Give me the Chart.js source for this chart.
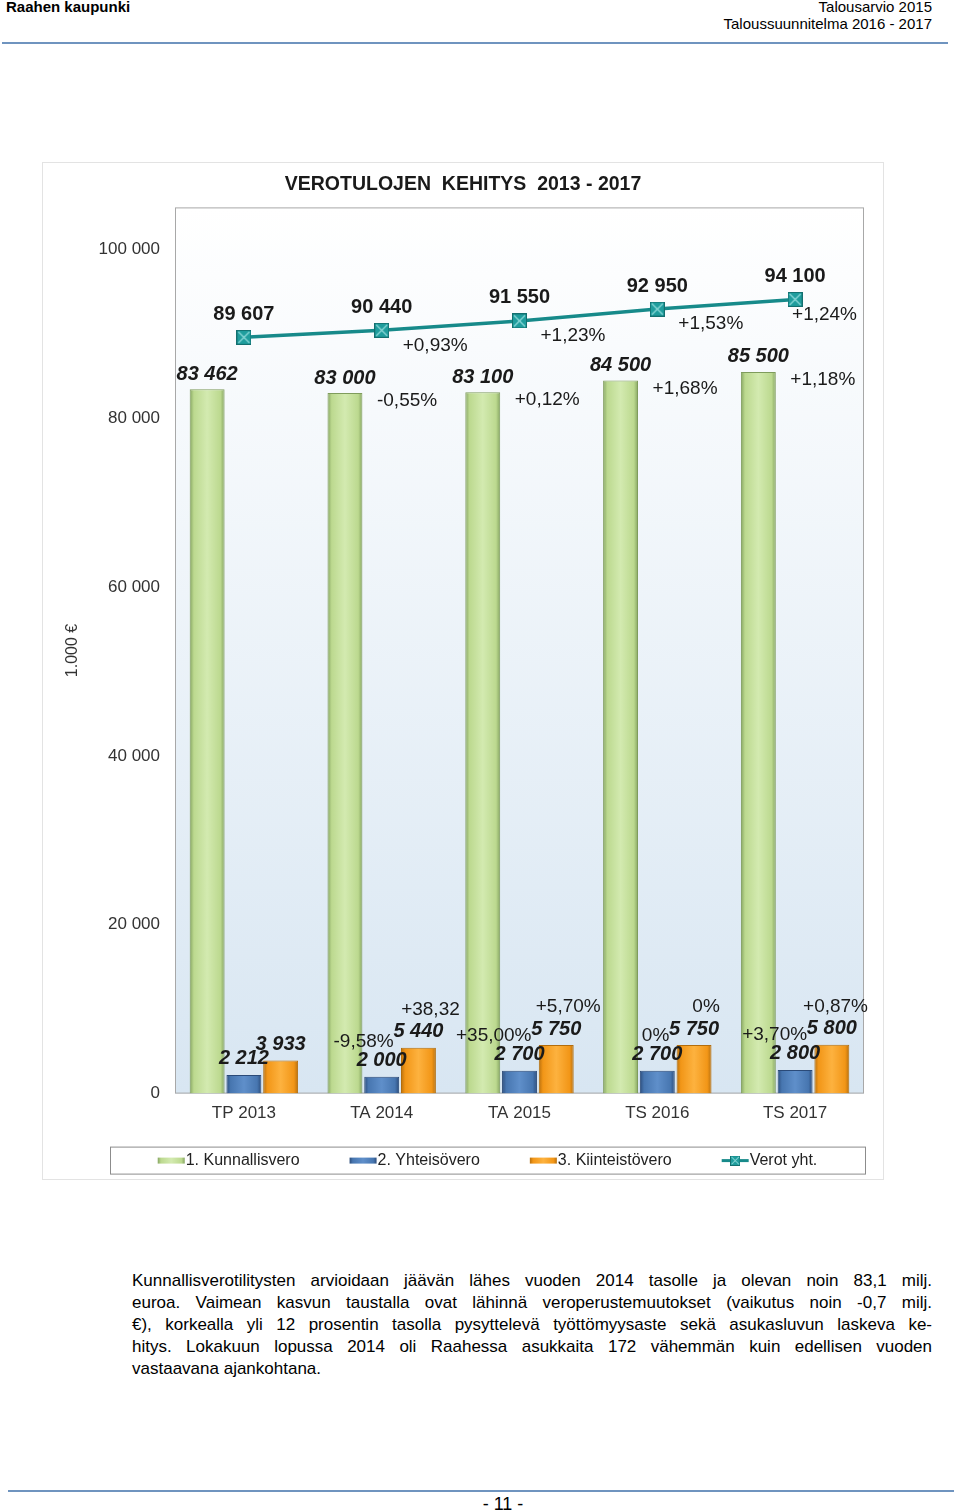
<!DOCTYPE html>
<html lang="fi">
<head>
<meta charset="utf-8">
<title>Verotulojen kehitys 2013 - 2017</title>
<script src="https://cdn.jsdelivr.net/npm/chart.js@4"></script>
<style>
  html, body { margin: 0; padding: 0; background: #fff; }
  body { width: 960px; height: 1512px; position: relative; overflow: hidden;
         font-family: "Liberation Sans", Arial, sans-serif; color: #000; }
  .hdr-left { position: absolute; left: 6px; top: -2px; font-weight: bold; font-size: 15px; line-height: 17px; }
  .hdr-right { position: absolute; right: 28px; top: -2px; text-align: right; font-size: 15px; line-height: 17px; }
  .rule { position: absolute; height: 2px; background: #6f94bf; }
  #box { position: absolute; left: 42px; top: 162px; width: 840px; height: 1016px; border: 1px solid #e3e3e3; }
  .para { position: absolute; left: 132px; top: 1270px; width: 800px; font-size: 17px; line-height: 22px; }
  .para div { text-align: justify; text-align-last: justify; }
  .para div.last { text-align-last: left; }
  .page { position: absolute; left: 453px; width: 100px; top: 1494px; text-align: center; font-size: 18px; }
</style>
</head>
<body>
<div class="hdr-left">Raahen kaupunki</div>
<div class="hdr-right">Talousarvio 2015<br>Taloussuunnitelma 2016 - 2017</div>
<div class="rule" style="left:2px; top:42px; width:946px;"></div>

<div id="box"><canvas id="verotChart" width="840" height="1016"></canvas></div>

<div class="para">
  <div>Kunnallisverotilitysten arvioidaan jäävän lähes vuoden 2014 tasolle ja olevan noin 83,1 milj.</div>
  <div>euroa. Vaimean kasvun taustalla ovat lähinnä veroperustemuutokset (vaikutus noin -0,7 milj.</div>
  <div>€), korkealla yli 12 prosentin tasolla pysyttelevä työttömyysaste sekä asukasluvun laskeva ke-</div>
  <div>hitys. Lokakuun lopussa 2014 oli Raahessa asukkaita 172 vähemmän kuin edellisen vuoden</div>
  <div class="last">vastaavana ajankohtana.</div>
</div>

<div class="rule" style="left:8px; top:1490px; width:946px;"></div>
<div class="page">- 11 -</div>

<script>
const categories = ['TP 2013', 'TA 2014', 'TA 2015', 'TS 2016', 'TS 2017'];
const kunnallisvero = [83462, 83000, 83100, 84500, 85500];
const yhteisovero = [2212, 2000, 2700, 2700, 2800];
const kiinteistovero = [3933, 5440, 5750, 5750, 5800];
const verotYht = [89607, 90440, 91550, 92950, 94100];

// muutos-% edelliseen vuoteen
const kunnallisMuutos = ['', '-0,55%', '+0,12%', '+1,68%', '+1,18%'];
const yhteisoMuutos = ['', '-9,58%', '+35,00%', '0%', '+3,70%'];
const kiinteistoMuutos = ['', '+38,32', '+5,70%', '0%', '+0,87%'];
const verotMuutos = ['', '+0,93%', '+1,23%', '+1,53%', '+1,24%'];

const yTicks = [0, 20000, 40000, 60000, 80000, 100000];

const FONT = '"Liberation Sans", Arial, sans-serif';
const fmt = v => String(v).replace(/\B(?=(\d{3})+(?!\d))/g, ' ');

// bar shading: edge, mid, light
const greenShade = ['#86a562', '#bcd98f', '#d3eab0'];
const blueShade = ['#2c4d7c', '#4776b0', '#5f8fca'];
const orangeShade = ['#b8700e', '#f29617', '#fdb23f'];

function shade(ctx, x0, x1, s) {
  const g = ctx.createLinearGradient(x0, 0, x1, 0);
  g.addColorStop(0, s[0]);
  g.addColorStop(0.12, s[1]);
  g.addColorStop(0.5, s[2]);
  g.addColorStop(0.88, s[1]);
  g.addColorStop(1, s[0]);
  return g;
}

// square marker with an X
const marker = document.createElement('canvas');
marker.width = 15;
marker.height = 15;
const m = marker.getContext('2d');
m.fillStyle = '#1f9d9d';
m.fillRect(0, 0, 15, 15);
m.strokeStyle = '#136f6f';
m.lineWidth = 1;
m.strokeRect(0.5, 0.5, 14, 14);
m.strokeStyle = '#8fdada';
m.lineWidth = 1.2;
m.beginPath();
m.moveTo(2, 2); m.lineTo(13, 13);
m.moveTo(13, 2); m.lineTo(2, 13);
m.stroke();

const plotFrame = {
  id: 'plotFrame',
  beforeDatasetsDraw(chart) {
    const { ctx, chartArea: a } = chart;
    ctx.save();
    const g = ctx.createLinearGradient(0, a.top, 0, a.bottom);
    g.addColorStop(0, '#ffffff');
    g.addColorStop(1, '#d8e6f2');
    ctx.fillStyle = g;
    ctx.fillRect(a.left, a.top, a.width, a.height);
    ctx.strokeStyle = '#a8a8a8';
    ctx.lineWidth = 1;
    ctx.strokeRect(a.left + 0.5, a.top + 0.5, a.width - 1, a.height - 1);
    ctx.restore();

    chart.data.datasets.forEach((ds, i) => {
      if (!ds.shades) return;
      chart.getDatasetMeta(i).data.forEach(el => {
        const { x, width } = el.getProps(['x', 'width'], true);
        const bg = shade(ctx, x - width / 2, x + width / 2, ds.shades);
        el.options = Object.assign({}, el.options, { backgroundColor: bg });
      });
    });
  }
};

const valueLabels = {
  id: 'valueLabels',
  afterDatasetsDraw(chart) {
    const { ctx, chartArea: a } = chart;
    const valFont = 'italic bold 20px ' + FONT;
    const lineFont = 'bold 20px ' + FONT;
    const pctFont = '19px ' + FONT;
    const put = (s, x, y, font, align) => {
      if (!s) return;
      ctx.font = font;
      ctx.textAlign = align;
      ctx.fillStyle = '#1a1a1a';
      ctx.fillText(s, x, y);
    };
    const widthOf = (s, font) => { ctx.font = font; return ctx.measureText(s).width; };
    ctx.save();
    ctx.textBaseline = 'middle';

    chart.getDatasetMeta(0).data.forEach((el, k) => {
      put(fmt(kunnallisvero[k]), el.x, el.y - 15, valFont, 'center');
      put(kunnallisMuutos[k], el.x + 32, el.y + 8, pctFont, 'left');
    });
    chart.getDatasetMeta(1).data.forEach((el, k) => {
      put(yhteisoMuutos[k], el.x + 12, el.y - 35, pctFont, 'right');
      put(fmt(yhteisovero[k]), el.x, el.y - 16, valFont, 'center');
    });
    chart.getDatasetMeta(2).data.forEach((el, k) => {
      const s = kiinteistoMuutos[k];
      if (s) {
        const half = widthOf(s, pctFont) / 2;
        put(s, Math.min(el.x + 12, a.right + 4 - half), el.y - 38, pctFont, 'center');
      }
      put(fmt(kiinteistovero[k]), el.x, el.y - 16, valFont, 'center');
    });
    chart.getDatasetMeta(3).data.forEach((el, k) => {
      put(fmt(verotYht[k]), el.x, el.y - 23, lineFont, 'center');
      const s = verotMuutos[k];
      if (s) {
        const w = widthOf(s, pctFont);
        put(s, Math.min(el.x + 21, a.right - 7 - w), el.y + 15, pctFont, 'left');
      }
    });
    ctx.restore();
  }
};

const boxLegend = {
  id: 'boxLegend',
  afterDraw(chart) {
    const { ctx, chartArea: a } = chart;
    const left = a.left - 65, right = a.right + 1, top = a.bottom + 53, h = 27;
    const sw = 27, gap = 50;
    ctx.save();
    ctx.strokeStyle = '#8c8c8c';
    ctx.lineWidth = 1;
    ctx.strokeRect(left + 0.5, top + 0.5, right - left, h);
    ctx.font = '16px ' + FONT;
    const items = chart.data.datasets.map(ds => ({ ds, w: sw + 1 + ctx.measureText(ds.label).width }));
    const total = items.reduce((s, it) => s + it.w, 0) + gap * (items.length - 1);
    let x = (left + right) / 2 - total / 2;
    const cy = top + h / 2 + 0.5;
    items.forEach(({ ds, w }) => {
      if (ds.shades) {
        ctx.fillStyle = shade(ctx, x, x + sw, ds.shades);
        ctx.fillRect(x, cy - 3, sw, 6);
      } else {
        ctx.strokeStyle = ds.borderColor;
        ctx.lineWidth = 3;
        ctx.beginPath();
        ctx.moveTo(x, cy);
        ctx.lineTo(x + sw, cy);
        ctx.stroke();
        ctx.drawImage(marker, x + sw / 2 - 5, cy - 5, 10, 10);
      }
      ctx.fillStyle = '#222';
      ctx.textAlign = 'left';
      ctx.textBaseline = 'middle';
      ctx.fillText(ds.label, x + sw + 1, cy);
      x += w + gap;
    });
    ctx.restore();
  }
};

const ctx = document.getElementById('verotChart').getContext('2d');

new Chart(ctx, {
  data: {
    labels: categories,
    datasets: [
      {
        type: 'bar',
        label: '1. Kunnallisvero',
        data: kunnallisvero,
        shades: greenShade,
        backgroundColor: greenShade[1],
        borderColor: '#7f9c5c',
        borderWidth: 1,
        order: 1
      },
      {
        type: 'bar',
        label: '2. Yhteisövero',
        data: yhteisovero,
        shades: blueShade,
        backgroundColor: blueShade[1],
        borderColor: '#2a4a78',
        borderWidth: 1,
        order: 1
      },
      {
        type: 'bar',
        label: '3. Kiinteistövero',
        data: kiinteistovero,
        shades: orangeShade,
        backgroundColor: orangeShade[1],
        borderColor: '#b36d0c',
        borderWidth: 1,
        order: 1
      },
      {
        type: 'line',
        label: 'Verot yht.',
        data: verotYht,
        borderColor: '#178a8a',
        backgroundColor: '#1f9d9d',
        borderWidth: 3.5,
        pointStyle: marker,
        pointRadius: 7,
        tension: 0,
        order: 0
      }
    ]
  },
  options: {
    responsive: false,
    animation: false,
    datasets: {
      bar: { categoryPercentage: 0.8, barPercentage: 0.95 }
    },
    layout: {
      padding: { left: 19, right: 19, top: 0, bottom: 45 }
    },
    scales: {
      x: {
        grid: { display: false, drawTicks: false },
        border: { display: false },
        ticks: {
          padding: 10,
          color: '#333',
          font: { family: FONT, size: 17 }
        }
      },
      y: {
        min: 0,
        max: 105000,
        grid: { display: false, drawTicks: false },
        border: { display: false },
        afterBuildTicks: s => { s.ticks = yTicks.map(v => ({ value: v })); },
        afterFit: s => { s.width = 113; },
        ticks: {
          padding: 15,
          color: '#333',
          font: { family: FONT, size: 17 },
          callback: v => fmt(v)
        },
        title: {
          display: true,
          text: '1.000 €',
          color: '#333',
          padding: { top: 1, bottom: 0 },
          font: { family: FONT, size: 16 }
        }
      }
    },
    plugins: {
      title: {
        display: true,
        text: 'VEROTULOJEN  KEHITYS  2013 - 2017',
        color: '#1a1a1a',
        padding: { top: 10, bottom: 11 },
        font: { family: FONT, size: 19.5, weight: 'bold' }
      },
      legend: { display: false },
      tooltip: { enabled: false }
    }
  },
  plugins: [plotFrame, valueLabels, boxLegend]
});
</script>
</body>
</html>
